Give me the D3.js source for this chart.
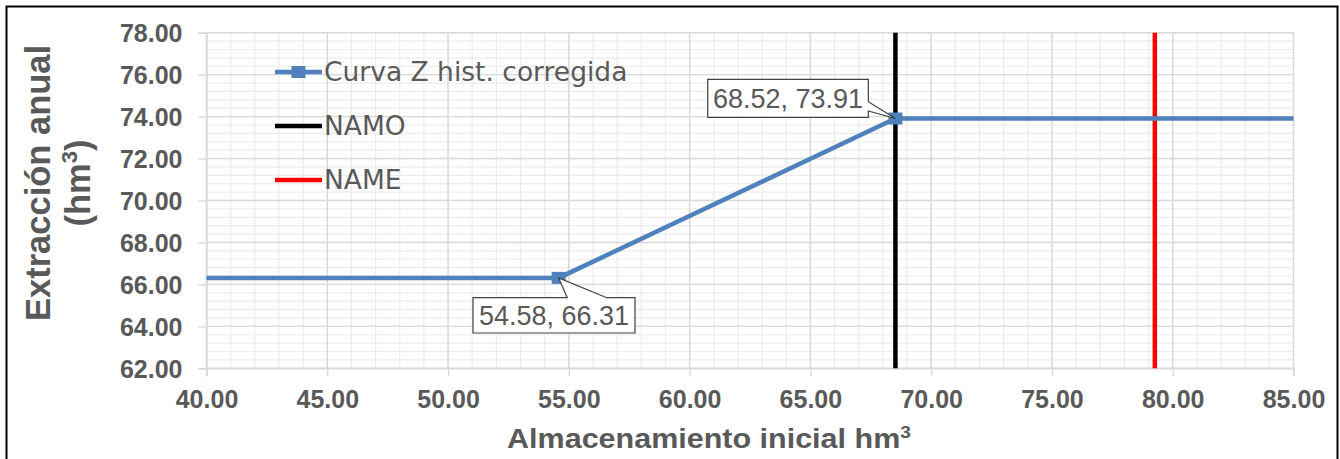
<!DOCTYPE html>
<html>
<head>
<meta charset="utf-8">
<script src="https://cdn.jsdelivr.net/npm/d3@7"></script>
<style>
  html, body { margin: 0; padding: 0; background: #fff; }
  svg { display: block; }
</style>
</head>
<body>
<svg id="chart" width="1340" height="459"></svg>
<script>
// Curva Z: extracción anual vs almacenamiento inicial
const storage = [35, 54.58, 68.52, 90];          // hm³
const extraction = [66.31, 66.31, 73.91, 73.91];  // hm³
const labeledPoints = [1, 2];                     // indices that carry a data label
const namo = 68.52;                               // NAMO storage
const name = 79.26;                               // NAME storage
const xTicks = [40, 45, 50, 55, 60, 65, 70, 75, 80, 85];
const yTicks = [62, 64, 66, 68, 70, 72, 74, 76, 78];
const seriesNames = ["Curva Z hist. corregida", "NAMO", "NAME"];

const W = 1340, H = 459;
const plot = { left: 206.5, right: 1293.5, top: 32.7, bottom: 368.3 };
const grey = "#595959";
const blue = "#4f81bd";

const svg = d3.select("#chart");
svg.append("rect").attr("width", W).attr("height", H).attr("fill", "#fff");

// outer frame
svg.append("rect")
  .attr("x", 6.5).attr("y", 6.5).attr("width", 1331).attr("height", 480)
  .attr("fill", "none").attr("stroke", "#000").attr("stroke-width", 2);

const x = d3.scaleLinear().domain([40, 85]).range([plot.left, plot.right]);
const y = d3.scaleLinear().domain([62, 78]).range([plot.bottom, plot.top]);

// minor gridlines
const xMinor = d3.range(40, 85.001, 1);
const yMinor = d3.range(62, 78.001, 0.4);
const grid = svg.append("g");
grid.selectAll(".xm").data(xMinor).join("line")
  .attr("x1", d => x(d)).attr("x2", d => x(d))
  .attr("y1", plot.top).attr("y2", plot.bottom)
  .attr("stroke", "#ececec").attr("stroke-width", 1.2);
grid.selectAll(".ym").data(yMinor).join("line")
  .attr("x1", plot.left).attr("x2", plot.right)
  .attr("y1", d => y(d)).attr("y2", d => y(d))
  .attr("stroke", "#ececec").attr("stroke-width", 1.2);

// major gridlines
grid.selectAll(".xM").data(xTicks).join("line")
  .attr("x1", d => x(d)).attr("x2", d => x(d))
  .attr("y1", plot.top).attr("y2", plot.bottom)
  .attr("stroke", "#d9d9d9").attr("stroke-width", 1.4);
grid.selectAll(".yM").data(yTicks).join("line")
  .attr("x1", plot.left).attr("x2", plot.right)
  .attr("y1", d => y(d)).attr("y2", d => y(d))
  .attr("stroke", "#d9d9d9").attr("stroke-width", 1.4);

// axes
const xAxis = d3.axisBottom(x).tickValues(xTicks).tickFormat(d3.format(".2f"))
  .tickSize(8).tickPadding(13);
const yAxis = d3.axisLeft(y).tickValues(yTicks).tickFormat(d3.format(".2f"))
  .tickSize(8).tickPadding(16);

const gx = svg.append("g").attr("transform", `translate(0,${plot.bottom})`).call(xAxis);
const gy = svg.append("g").attr("transform", `translate(${plot.left},0)`).call(yAxis);
[gx, gy].forEach(g => {
  g.select(".domain").attr("stroke", "#d9d9d9").attr("stroke-width", 1.4);
  g.selectAll(".tick line").attr("stroke", "#d9d9d9").attr("stroke-width", 1.4);
  g.selectAll(".tick text")
    .attr("fill", grey)
    .attr("font-family", "'Liberation Sans', Arial, sans-serif")
    .attr("font-weight", "bold")
    .attr("font-size", 25);
});
gx.selectAll(".tick text").attr("dy", "0.75em");
gy.selectAll(".tick text").attr("dy", "0.36em");

// clip for series
svg.append("clipPath").attr("id", "plotClip")
  .append("rect")
  .attr("x", plot.left).attr("y", plot.top - 10)
  .attr("width", plot.right - plot.left).attr("height", plot.bottom - plot.top + 20);

const series = storage.map((s, i) => ({ x: s, y: extraction[i] }));
const plotG = svg.append("g").attr("clip-path", "url(#plotClip)");

// NAMO / NAME reference lines
plotG.append("line")
  .attr("x1", x(namo)).attr("x2", x(namo))
  .attr("y1", y(62)).attr("y2", y(78))
  .attr("stroke", "#000").attr("stroke-width", 4.5);
plotG.append("line")
  .attr("x1", x(name)).attr("x2", x(name))
  .attr("y1", y(62)).attr("y2", y(78))
  .attr("stroke", "#ff0000").attr("stroke-width", 4.5);

// curve
const line = d3.line().x(d => x(d.x)).y(d => y(d.y));
plotG.append("path").datum(series)
  .attr("d", line).attr("fill", "none")
  .attr("stroke", blue).attr("stroke-width", 4.5);
plotG.selectAll(".mk").data(series).join("rect")
  .attr("x", d => x(d.x) - 7).attr("y", d => y(d.y) - 6)
  .attr("width", 14).attr("height", 12)
  .attr("fill", blue);

// data-label callouts
const fmt = d3.format(".2f");
const callouts = [
  { i: labeledPoints[0], bx: -85.7, by: 19.8, bw: 162, bh: 35.3, wedge: "top", w0: 8.6, w1: 48 },
  { i: labeledPoints[1], bx: -187.7, by: -39.2, bw: 160.6, bh: 38, wedge: "right", w0: -16.8, w1: -7.5 }
];
callouts.forEach(c => {
  const p = series[c.i];
  const px = x(p.x), py = y(p.y);
  const bx = px + c.bx, by = py + c.by, bw = c.bw, bh = c.bh;
  let d;
  if (c.wedge === "top") {
    d = `M${bx},${by} L${px + c.w0},${by} L${px},${py} L${px + c.w1},${by} L${bx + bw},${by} L${bx + bw},${by + bh} L${bx},${by + bh} Z`;
  } else {
    d = `M${bx},${by} L${bx + bw},${by} L${bx + bw},${py + c.w0} L${px},${py} L${bx + bw},${py + c.w1} L${bx + bw},${by + bh} L${bx},${by + bh} Z`;
  }
  svg.append("path").attr("d", d)
    .attr("fill", "#fff").attr("stroke", "#404040").attr("stroke-width", 1.2);
  svg.append("text")
    .attr("x", bx + bw / 2).attr("y", by + bh / 2 + 9.7)
    .attr("text-anchor", "middle")
    .attr("font-family", "'Liberation Sans', Arial, sans-serif")
    .attr("font-size", 27).attr("fill", grey)
    .text(`${fmt(p.x)}, ${fmt(p.y)}`);
});

// legend
const legend = svg.append("g");
const legendRows = [
  { label: seriesNames[0], color: blue, marker: true, y: 72 },
  { label: seriesNames[1], color: "#000", marker: false, y: 126 },
  { label: seriesNames[2], color: "#ff0000", marker: false, y: 180 }
];
legendRows.forEach(r => {
  legend.append("line")
    .attr("x1", 275).attr("x2", 322).attr("y1", r.y).attr("y2", r.y)
    .attr("stroke", r.color).attr("stroke-width", 4.5);
  if (r.marker) {
    legend.append("rect").attr("x", 291.5).attr("y", r.y - 6)
      .attr("width", 14).attr("height", 12).attr("fill", r.color);
  }
  legend.append("text")
    .attr("x", 324).attr("y", r.y + 9.3)
    .attr("font-family", "'DejaVu Sans', Verdana, sans-serif")
    .attr("font-size", 26.5).attr("fill", grey)
    .text(r.label);
});

// axis titles
const yTitle = svg.append("text")
  .attr("transform", "translate(50,183) rotate(-90)")
  .attr("text-anchor", "middle")
  .attr("font-family", "'Liberation Sans', Arial, sans-serif")
  .attr("font-weight", "bold").attr("font-size", 34.5).attr("fill", grey);
yTitle.append("tspan").attr("x", 0).attr("y", 0).text("Extracción anual");
yTitle.append("tspan").attr("x", 0).attr("y", 40).text("(hm");
yTitle.append("tspan").attr("dy", -13).attr("font-size", 22).text("3");
yTitle.append("tspan").attr("dy", 13).text(")");

const xTitle = svg.append("text")
  .attr("transform", "translate(709,448) scale(1.13,1)")
  .attr("text-anchor", "middle")
  .attr("font-family", "'Liberation Sans', Arial, sans-serif")
  .attr("font-weight", "bold").attr("font-size", 27).attr("fill", grey);
xTitle.append("tspan").text("Almacenamiento inicial hm");
xTitle.append("tspan").attr("dy", -10).attr("font-size", 17).text("3");
</script>
</body>
</html>
